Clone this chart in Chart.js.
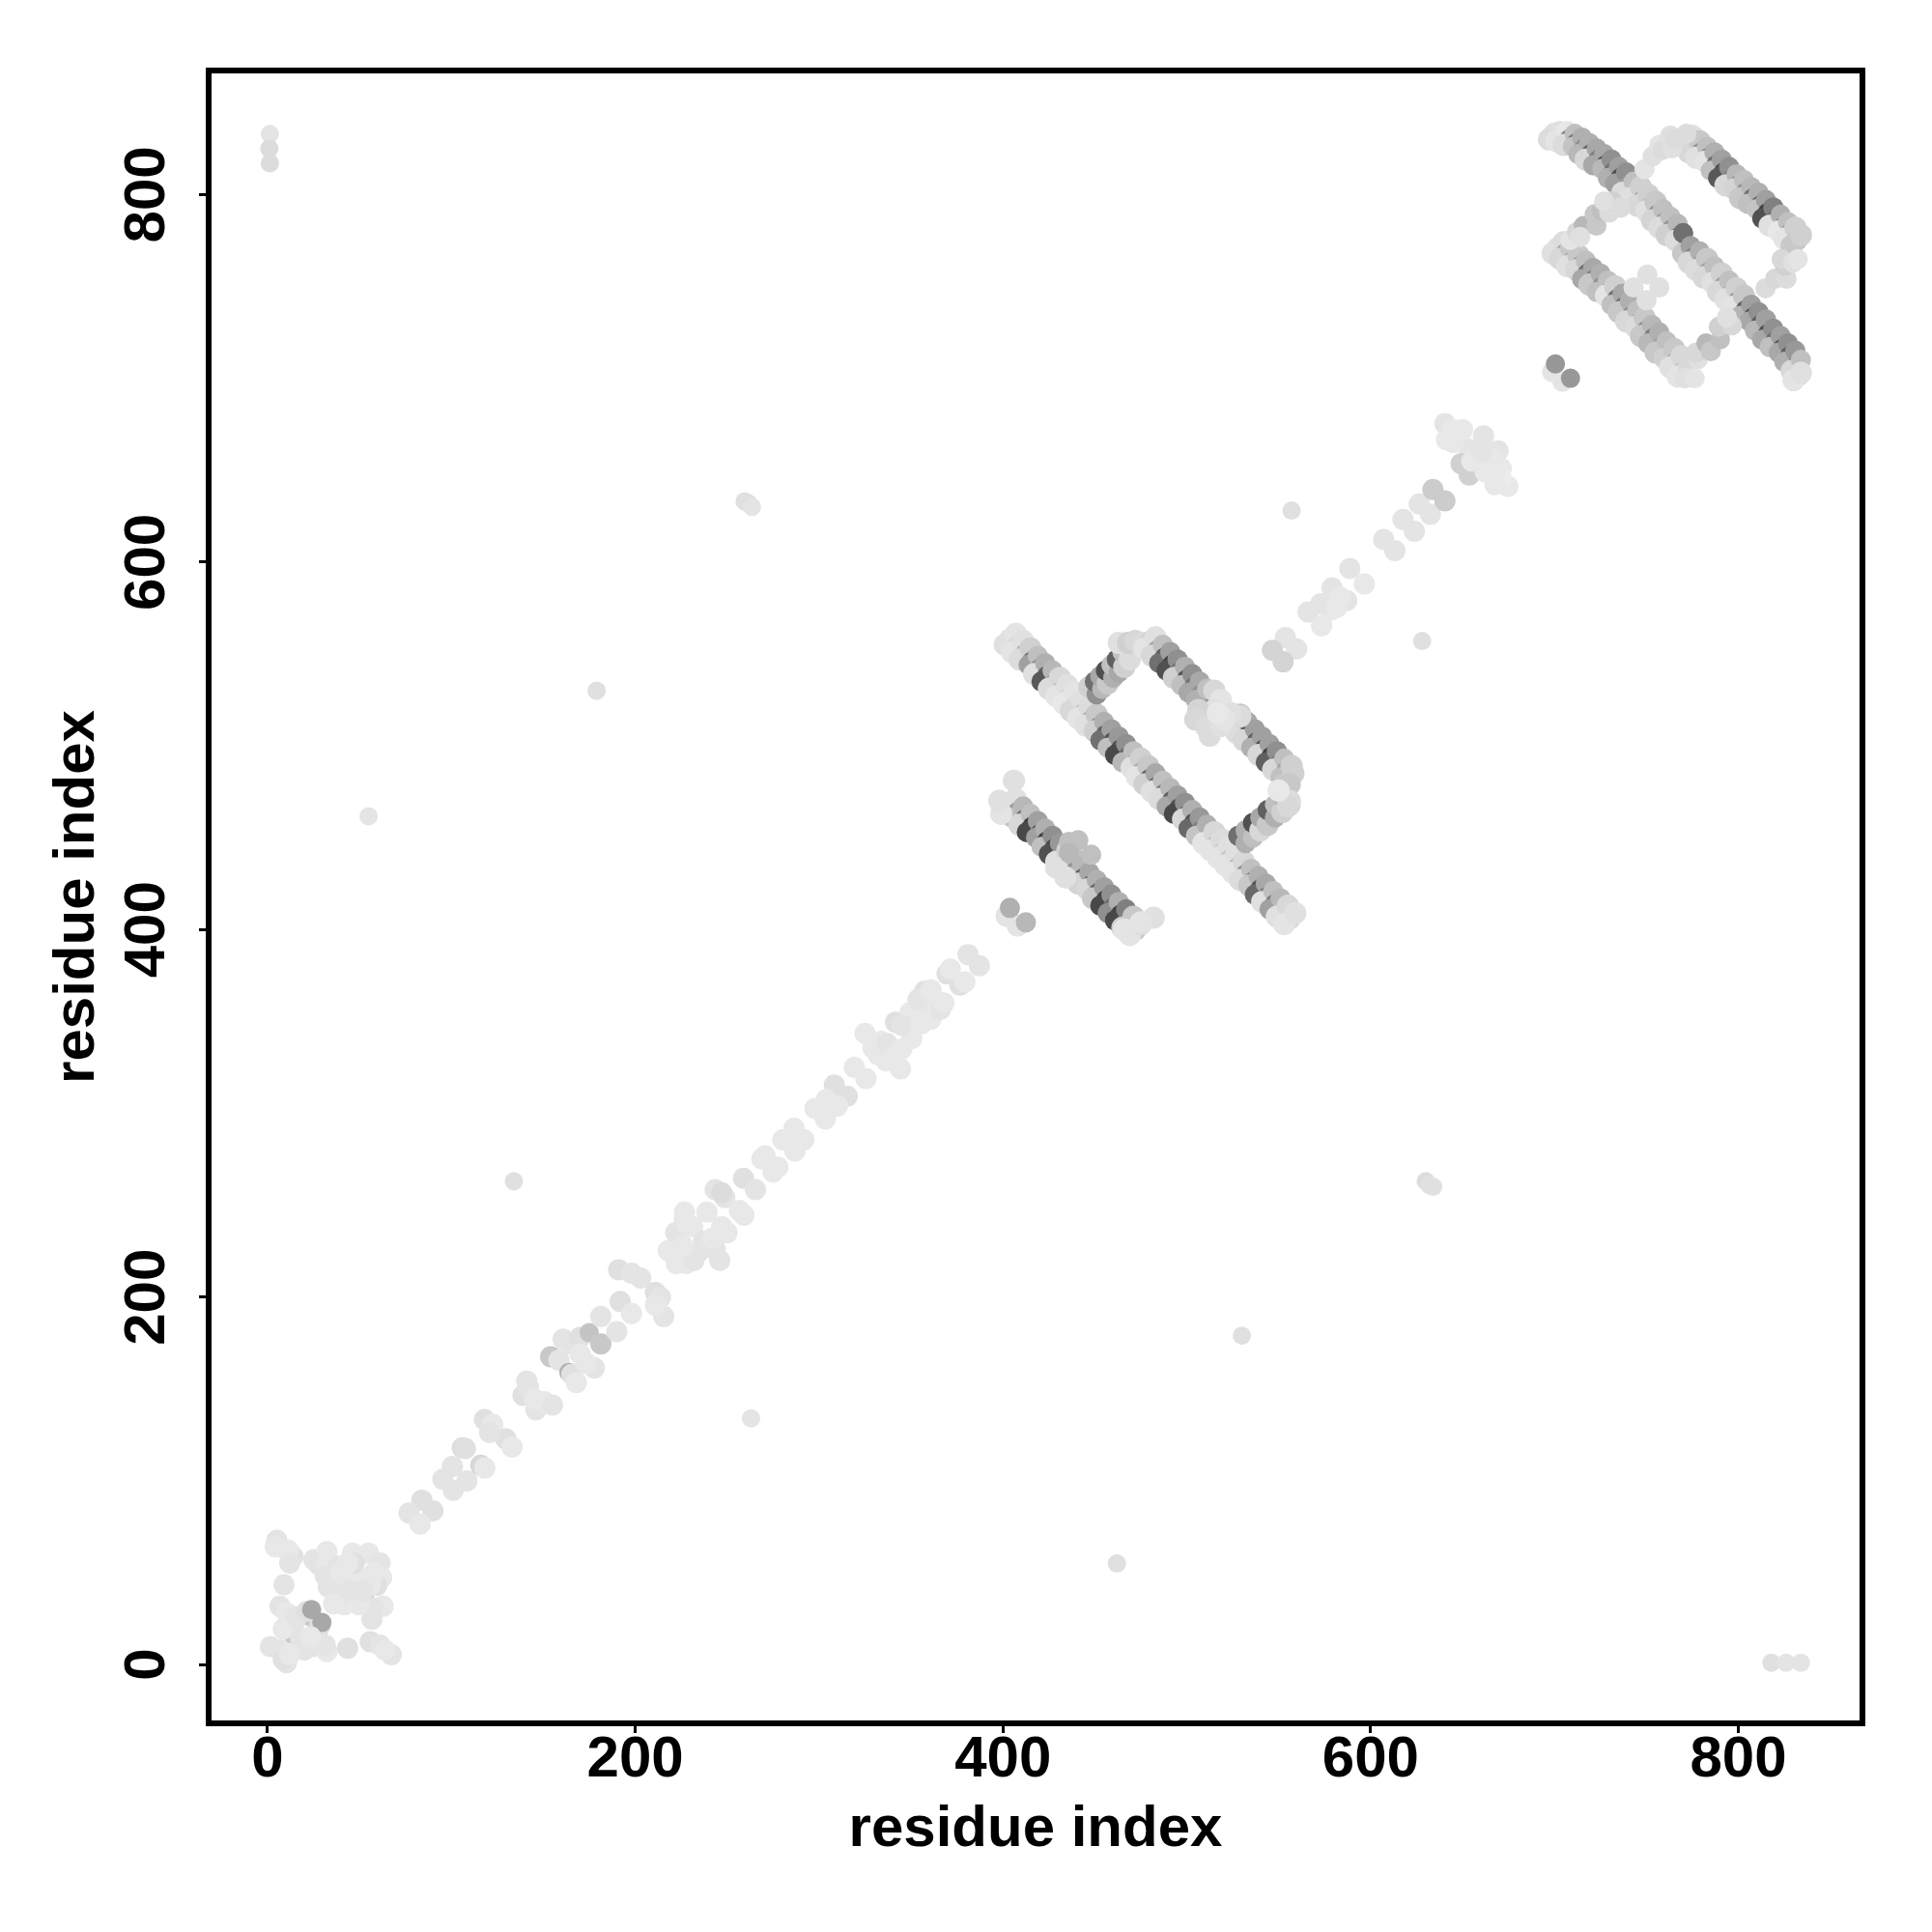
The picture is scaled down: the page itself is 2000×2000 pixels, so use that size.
<!DOCTYPE html>
<html>
<head>
<meta charset="utf-8">
<title>residue contacts</title>
<script src="https://cdn.jsdelivr.net/npm/chart.js@4"></script>
<style>
  html, body { margin: 0; background: #fff; }
  canvas { display: block; }
</style>
</head>
<body>
<canvas id="mapa" width="2000" height="2000"></canvas>
<script>
const tickValues = [0, 200, 400, 600, 800];
const axisTitle = "residue index";

// isolated contacts away from the diagonal
const strayX = [1.3, 1, 1.3, 55, 179, 134, 263, 530, 462, 557, 628, 818, 826, 834, 259.5, 261.5, 263.5, 630, 632, 634];
const strayY = [833, 825, 817, 461.6, 530, 263, 134, 179, 55, 628, 557, 1, 1, 1, 633, 632, 630, 263, 261, 260];
const strayGrey = [0xe4, 0xdc, 0xdc, 0xe4, 0xe0, 0xe0, 0xe4, 0xe0, 0xe0, 0xe0, 0xe0, 0xe0, 0xe4, 0xe4, 0xe0, 0xe0, 0xe4, 0xdc, 0xe0, 0xe0];

// corner block near the origin
const cornerX = [
  31, 35, 42, 46, 40, 22, 27, 14, 50, 53,
  5.1, 4.2, 12.1, 13.8, 11.2, 12.1, 9,
  6.8, 10.3, 14.7, 8.6, 18, 20, 16, 21.5, 28.5, 24, 29.6,
  1.6, 6.8, 10.3, 8.6, 12.1, 25.2, 32.3, 31.4, 23.5, 43.6,
  55.9, 61.2, 67.3, 63.8,
  25.2, 32.3, 27.9, 32.3, 38.4, 46.3, 55, 61.2, 62.1, 59.4, 36.6, 33.1, 31.4,
  43.6, 50.7, 46.3, 41.9, 62.9, 57.7, 56.8, 49.8, 47.2, 43.6, 38.4, 55.9,
  40, 45, 36, 52, 58
];
const cornerY = [
  50, 42, 50, 45, 36, 27, 18, 17, 38, 34,
  67.6, 64.1, 59.7, 58.8, 62.3, 55.3, 43.4,
  31.7, 28.2, 22.9, 19.4, 14, 8, 26, 29, 21, 29.9, 22.9,
  9.8, 8, 1, 2.8, 5.4, 9.8, 7.1, 10.6, 15, 8.9,
  12.4, 10.6, 5.4, 8,
  57.1, 61.4, 54.4, 55.3, 53.6, 60.6, 60.6, 55.3, 47.4, 43.1, 43.9, 42.2, 48.3,
  48.3, 46.6, 39.5, 32.5, 31.7, 30.8, 24.7, 32.5, 55.3, 55.3, 36.9, 43.1,
  50, 40, 33, 40, 50
];
const cornerGrey = [
  0xc0, 0xc0, 0xb8, 0xc0, 0xc8, 0xc8, 0xc8, 0xc8, 0xc8, 0xc8,
  0xe4, 0xe8, 0xe4, 0xe0, 0xe8, 0xe4, 0xe4,
  0xe4, 0xe8, 0xe4, 0xe8, 0xe4, 0xe4, 0xe4, 0xe0, 0xe0, 0xa8, 0xa8,
  0xe4, 0xe4, 0xe4, 0xe0, 0xe8, 0xe4, 0xe8, 0xe4, 0xe8, 0xe0,
  0xe0, 0xe4, 0xe4, 0xe8,
  0xe4, 0xe8, 0xe4, 0xe8, 0xe4, 0xe8, 0xe8, 0xe4, 0xe8, 0xe0, 0xe8, 0xe4, 0xe4,
  0xe8, 0xe8, 0xe4, 0xe8, 0xe8, 0xe4, 0xe4, 0xe8, 0xe0, 0xe8, 0xe4, 0xe8,
  0xe8, 0xe4, 0xe8, 0xe4, 0xe8
];

// contacts along the main diagonal
const diagX = [
  84, 77, 90, 83,
  100.6, 95.4, 108.5, 101, 106, 107.6, 116, 118.2,
  118, 122.5, 129.6, 133, 120.8,
  141, 139, 142, 146, 150.6, 155, 145,
  154, 158.5, 160.8, 165.5, 164, 165.5, 168, 177.8, 173.4, 170, 175, 181.3, 181.3, 190, 170,
  191.8, 198,
  191, 198, 203, 211, 213.7, 215.5, 211,
  218, 222.4, 226.8, 231.2, 239, 247, 237.3, 243.5, 227.7, 226.8,
  222, 228, 235, 242, 246, 250, 232, 226,
  243.5, 248.7, 256.6, 259.2, 247,
  258.9, 265.4,
  270.6, 277.6, 268.9, 275,
  286.4, 280.3, 291.7, 286.9,
  308.3, 315.3, 303.9, 297.8, 303.4, 310,
  319.2, 325.5,
  325, 333.7, 339.9, 344.3, 329.3, 336.4, 332, 337, 340, 345,
  341.6, 349.5, 354.8, 360.9, 350.4, 366.2, 345.1, 355.6,
  381, 387.2,
  369.6, 376.6, 371.4, 379.3,
  357.4, 366.1, 353.8, 360.9, 367.9,
  553.6, 546.6, 559.8, 552.4,
  566, 573.3, 578.2, 572.9, 579, 587, 588.7, 596.6, 583.4, 581.7,
  607.1, 613.2,
  617.6, 623.8,
  626.4, 632.5,
  633.9, 640.4,
  640.4, 644.8, 648.3, 661.4, 641.3, 653.6, 669.3, 665.8, 649.2, 653.6, 658.8, 671.1, 674.6, 671.1, 667.6, 662.3,
  645, 655, 660, 650, 668
];
const diagY = [
  89.5, 82.5, 83.7, 76.4,
  107.9, 100.9, 100, 94.8, 118, 117.6, 108.5, 107,
  133.3, 130.7, 122.8, 118.4, 126.3,
  154.3, 146.5, 150.8, 138.6, 143, 141.2, 144.7,
  167.5, 165.7, 177.1, 174.5, 159, 157.9, 153.5, 161.4, 164, 178, 180.6, 174.5, 189.4, 181.2, 169,
  197.6, 191,
  214.8, 213, 210.4, 202.5, 199.9, 189.4, 195.5,
  225.2, 218.2, 242.7, 238.3, 246.2, 238.3, 230.4, 226, 218.2, 246.2,
  235, 240, 225, 232, 220, 235, 220, 228,
  258.5, 254.1, 247.1, 244.5, 256.7,
  264.6, 258.5,
  276.9, 270.7, 275.1, 268.1,
  291.8, 285.6, 285.6, 279.5,
  315.4, 309.3, 307.5, 302.6, 297, 304,
  325, 318.9,
  343.5, 339.1, 333.8, 324.2, 335.6, 328.6, 332, 338, 330, 335,
  349.6, 354.8, 359.2, 351.3, 340.8, 360.1, 347.8, 348.7,
  386.4, 380.3,
  375.9, 369.8, 378.5, 371.5,
  366.3, 356.6, 361.9, 367.1, 360.1,
  558.9, 551.9, 552.7, 545.7,
  572.9, 565.4, 573.8, 577.3, 586, 579, 596.5, 588.1, 580.8, 575.5,
  612.3, 606.2,
  623.2, 616.7,
  631.6, 626,
  639.5, 633.3,
  675.4, 671.9, 669.3, 668.7, 666.6, 661.4, 660.5, 656.1, 653.5, 647.4, 654.4, 650.9, 641.2, 645.6, 642.1, 649.1,
  665, 655, 660, 672, 650
];
const diagGrey = [
  0xe0, 0xe4, 0xe0, 0xe8,
  0xe4, 0xe4, 0xe4, 0xe4, 0xdc, 0xe0, 0xd8, 0xe8,
  0xe0, 0xe8, 0xe0, 0xe8, 0xe4,
  0xe4, 0xe0, 0xe4, 0xe4, 0xe8, 0xe4, 0xe8,
  0xc8, 0xe4, 0xe4, 0xe4, 0xb0, 0xe0, 0xe8, 0xe4, 0xe8, 0xe0, 0xc4, 0xc8, 0xe4, 0xe4, 0xe8,
  0xe0, 0xe8,
  0xe0, 0xe4, 0xe4, 0xe0, 0xe4, 0xe4, 0xe8,
  0xe8, 0xe8, 0xe4, 0xe8, 0xe8, 0xe8, 0xe4, 0xe4, 0xe8, 0xe8,
  0xe4, 0xe8, 0xe4, 0xe8, 0xe4, 0xe8, 0xe4, 0xe8,
  0xe4, 0xe4, 0xe8, 0xe8, 0xdc,
  0xe0, 0xe4,
  0xe8, 0xe8, 0xe8, 0xe8,
  0xe8, 0xe8, 0xe8, 0xe8,
  0xe0, 0xe0, 0xe8, 0xe8, 0xe8, 0xe8,
  0xe8, 0xe8,
  0xe8, 0xe8, 0xe8, 0xe8, 0xe8, 0xe8, 0xe8, 0xe4, 0xe8, 0xe8,
  0xe0, 0xe8, 0xe8, 0xe8, 0xe8, 0xe8, 0xe4, 0xe8,
  0xe4, 0xe4,
  0xe0, 0xe0, 0xe8, 0xe8,
  0xe0, 0xe4, 0xe4, 0xe8, 0xe8,
  0xe4, 0xd4, 0xe4, 0xd4,
  0xe4, 0xe8, 0xe8, 0xe4, 0xe4, 0xe4, 0xe4, 0xe8, 0xe8, 0xe8,
  0xe4, 0xe4,
  0xe4, 0xe4,
  0xe4, 0xe4,
  0xcc, 0xcc,
  0xe4, 0xe8, 0xec, 0xe4, 0xe8, 0xe4, 0xe4, 0xe8, 0xd0, 0xd0, 0xe8, 0xe8, 0xe8, 0xec, 0xe8, 0xe8,
  0xe8, 0xe8, 0xe4, 0xe8, 0xe8
];

// long antiparallel strand, first block
const strandAX = [
  404,401,407, 408,405,411, 412,409,415, 416,414,419, 420,417,423, 424,421,427, 428,425,431, 432,429,435, 436,433,439, 440,437,443,
  444,441,447, 448,445,451, 452,450,455, 456,453,459, 460,457,463, 464,461,467, 468,465,471, 472,470,475, 476,473,479, 480,477,483,
  484,481,487, 488,485,491, 492,489,495, 496,493,499, 500,498,503, 504,501,507, 508,505,511, 512,509,515, 516,513,519, 520,517,523,
  524,521,527, 528,525,531, 532,529,535, 536,534,539, 540,537,543, 544,541,547, 548,545,551, 552,549,555, 556,553,559
];
const strandAY = [
  558,555,561, 554,551,557, 550,547,553, 546,544,549, 542,539,545, 538,535,541, 534,531,537, 530,527,533, 526,523,529, 522,519,525,
  518,515,521, 514,511,517, 510,508,513, 506,503,509, 502,499,505, 498,495,501, 494,491,497, 490,488,493, 486,483,489, 482,479,485,
  478,475,481, 474,471,477, 470,467,473, 466,463,469, 462,460,465, 458,455,461, 454,451,457, 450,447,453, 446,443,449, 442,439,445,
  438,435,441, 434,431,437, 430,427,433, 426,424,429, 422,419,425, 418,415,421, 414,411,417, 410,407,413, 406,403,409
];
const strandAGrey = [
  0xe0,0xe0,0xe4, 0xd8,0xe4,0xe0, 0xb0,0xdc,0xd0, 0x70,0xa0,0xc0, 0x90,0xe0,0xb0, 0x60,0x58,0xb8, 0xa0,0xdc,0xd8, 0xc0,0xe4,0xe0, 0xd8,0xe8,0xe4, 0xe0,0xd8,0xe0,
  0xc0,0xe4,0xdc, 0xa8,0xe0,0xc8, 0x80,0xd0,0xb0, 0x60,0x70,0xa0, 0x50,0xc0,0x98, 0x50,0x48,0x90, 0x70,0xb8,0xc0, 0x90,0xe0,0xd0, 0xa0,0xe4,0xc8, 0x60,0xd0,0xa8,
  0x70,0xe0,0xc0, 0x80,0xdc,0xb8, 0x60,0xa8,0xa0, 0x50,0x48,0x90, 0x60,0xd8,0xb0, 0x50,0x68,0x98, 0x80,0xc4,0xb0, 0xb0,0xe4,0xd8, 0xc0,0xe4,0xdc, 0xd0,0xe4,0xe0,
  0xc8,0xe4,0xe0, 0xb0,0xe4,0xd8, 0x90,0xdc,0xc0, 0x70,0xc8,0xb0, 0x58,0x68,0xa8, 0x80,0xe0,0xc0, 0x80,0xa0,0xb8, 0xc0,0xe0,0xd8, 0xd8,0xe4,0xe0
];

// shorter strand under the first one, plus its side contacts
const strandEX = [
  404,401,407, 408,405,411, 412,409,415, 416,413,419, 420,418,423, 424,421,427, 428,425,431, 432,429,435, 436,433,439,
  440,437,443, 444,441,447, 448,446,451, 452,449,455, 456,453,459, 460,457,463, 464,461,467, 468,465,471, 472,469,475,
  406, 399, 398, 482, 475, 466, 429, 434, 436, 441, 448, 436,
  402, 408, 403.8, 412.5
];
const strandEY = [
  468,465,471, 464,461,467, 460,457,463, 456,453,459, 452,450,455, 448,445,451, 444,441,447, 440,437,443, 436,433,439,
  432,429,435, 428,425,431, 424,422,427, 420,417,423, 416,413,419, 412,409,415, 408,405,411, 404,401,407, 400,397,403,
  481, 463, 470, 406.5, 404, 400, 433.7, 428.4, 447.7, 448.6, 440.7, 441.6,
  407.4, 402.2, 411.8, 403.9
];
const strandEGrey = [
  0xd8,0xdc,0xe0, 0xa0,0xc0,0xb8, 0x70,0xd8,0xc0, 0x40,0x48,0xa0, 0x60,0xa0,0xb0, 0x40,0xc0,0x90, 0x48,0x50,0x98, 0x90,0xe0,0xd0, 0x80,0xd8,0xc0,
  0x90,0xa8,0xb8, 0x60,0xd4,0xa8, 0x50,0xd8,0xb0, 0x60,0xc8,0xa0, 0x40,0x48,0x90, 0x70,0x90,0xb0, 0x40,0x48,0x80, 0x80,0xd0,0xc8, 0xc8,0xe4,0xdc,
  0xe0, 0xe4, 0xe0, 0xe0, 0xe4, 0xe4, 0xe0, 0xe0, 0xc0, 0xc0, 0xc0, 0xb8,
  0xe4, 0xe4, 0xb0, 0xb8
];

// second strand of the first block, links and the light patch
const strandCX = [
  447,451, 450,454, 453,457, 456,460, 459,463, 462,466, 465,469,
  463, 468, 472, 477, 482, 486,
  528,532, 532,536, 536,540, 540,544, 544,548, 548,552, 552,556,
  480,477,483, 484,481,487, 488,485,491, 492,489,495, 496,493,499, 500,497,503, 504,501,507, 508,505,511,
  526,523,529, 530,527,533, 534,531,537, 538,535,541, 542,539,545, 546,543,549, 550,547,553, 554,551,557, 556,553,558,
  515, 518.6, 515, 506.3, 504.6, 510.7, 512.5, 518.6, 529.1, 523.9, 520.3, 516.8,
  556, 556, 555, 550
];
const strandCY = [
  532,528, 535,531, 538,534, 541,537, 544,540, 547,543, 551,547,
  556, 556, 557, 556, 555, 553,
  451,447, 454,450, 458,454, 461,457, 465,461, 468,464, 472,468,
  556,553,559, 552,549,555, 548,545,551, 544,541,547, 540,537,543, 536,533,539, 532,529,535, 528,525,531,
  514,511,517, 510,507,513, 506,503,509, 502,499,505, 498,495,501, 494,491,497, 490,487,493, 486,483,489, 482,479,485,
  530, 524.8, 519.5, 519.5, 514.3, 509.9, 505.5, 510.8, 516, 517.8, 514.3, 517.8,
  479, 470, 467, 475.7
];
const strandCGrey = [
  0xd0,0x90, 0x70,0xb8, 0xa8,0xc8, 0x50,0xb0, 0xc0,0xa8, 0x60,0xd0, 0xc0,0xdc,
  0xe0, 0xd0, 0xd8, 0xdc, 0xe0, 0xc8,
  0x70,0xb0, 0xb0,0xc0, 0x50,0xd8, 0xa8,0xc8, 0x60,0xb0, 0xc0,0xd0, 0xb8,0xd4,
  0xd0,0xe4,0xe0, 0xa0,0xd8,0xc0, 0x60,0x70,0xa0, 0x40,0x50,0x90, 0x70,0xd0,0xb0, 0x50,0xc0,0x90, 0x70,0xa8,0xa8, 0x90,0xb0,0xc0,
  0x90,0xe0,0xc8, 0x60,0xdc,0xa8, 0x50,0xd8,0xa0, 0x60,0xb0,0xa0, 0x50,0xd8,0xa0, 0x40,0x60,0x90, 0x80,0xd8,0xc0, 0xa0,0xc0,0xd0, 0xc0,0xc8,0xd0,
  0xd8, 0xe4, 0xe0, 0xd4, 0xd8, 0xdc, 0xdc, 0xe0, 0xdc, 0xe0, 0xe4, 0xe8,
  0xc8, 0xdc, 0xd8, 0xe8
];

// second block, top right
const strandFX = [
  700,697,703, 704,701,707, 708,705,711, 712,710,715, 716,713,719, 720,717,723, 724,721,727, 728,726,731, 732,729,735, 736,733,739,
  740,737,743, 744,741,747, 748,745,751, 752,750,755, 756,753,759, 760,757,763, 764,761,767, 768,766,770, 772,770,774, 776,773,779,
  780,777,783, 784,781,787, 788,786,791, 792,789,795, 796,793,799, 800,797,803, 804,801,807, 808,806,811, 812,809,815, 816,813,819,
  820,817,823, 824,822,827, 828,825,831, 832,829,834, 833,830,834
];
const strandFY = [
  833,830,834, 832,829,834, 830,827,833, 828,826,831, 825,822,828, 822,819,825, 819,816,822, 816,814,819, 812,809,815, 809,806,812,
  804,801,807, 801,798,804, 797,794,800, 793,791,796, 789,786,792, 785,782,788, 781,778,784, 777,775,779, 770,768,772, 766,763,769,
  762,759,765, 758,755,761, 754,752,757, 750,747,753, 746,743,749, 742,739,745, 737,734,740, 733,731,736, 729,726,732, 724,721,727,
  720,717,723, 716,714,719, 712,709,715, 707,704,710, 702,699,703
];
const strandFGrey = [
  0xe0,0xdc,0xe0, 0xe4,0xe4,0xe8, 0x80,0xdc,0xc0, 0x70,0xc4,0xb0, 0x90,0xb8,0xb0, 0x60,0xd8,0xa8, 0x80,0xa8,0xa8, 0x50,0xb8,0x90, 0x70,0xb0,0xa0, 0x50,0xa0,0x90,
  0xa0,0xdc,0xc0, 0xc0,0xe0,0xd0, 0xa8,0xd8,0xd0, 0xa0,0xe0,0xc8, 0x90,0xd4,0xc0, 0xa0,0xdc,0xc0, 0x90,0xd0,0xb8, 0x50,0xdc,0x70, 0x40,0xc8,0xa0, 0x80,0xd8,0xb0,
  0xa0,0xdc,0xc8, 0xa0,0xd8,0xc0, 0xb0,0xe0,0xd0, 0xa0,0xd8,0xc0, 0xb0,0xe0,0xd0, 0x90,0xe4,0xc8, 0x60,0xb4,0xa0, 0x50,0xa8,0x90, 0x60,0xb8,0xa0, 0x50,0xa8,0x90,
  0x70,0xc0,0xa0, 0x50,0xa8,0x90, 0x60,0xb0,0x98, 0x80,0xd8,0xc0, 0xd0,0xe4,0xe0
];

const strandGX = [
  702,699,705, 706,703,709, 710,707,713, 714,712,717, 718,715,721, 722,719,725, 726,723,729, 730,728,733, 734,731,737,
  738,735,741, 742,739,745, 746,744,749, 750,747,753, 754,751,757, 758,755,761, 762,760,765, 766,763,769, 770,767,773
];
const strandGY = [
  771,768,774, 768,765,771, 764,761,767, 761,759,764, 757,754,760, 754,751,757, 750,747,753, 747,745,750, 743,740,746,
  739,736,742, 734,731,737, 730,728,733, 726,723,729, 722,719,725, 717,714,720, 713,711,716, 709,706,712, 704,701,707
];
const strandGGrey = [
  0xe0,0xe0,0xdc, 0xa0,0xd8,0xc8, 0xa8,0xe0,0xc8, 0x90,0xd8,0xc0, 0x70,0xa8,0xa8, 0x80,0xc8,0xb0, 0x90,0xc0,0xc0, 0xa0,0xe4,0xd0, 0x70,0xc0,0xa8,
  0x70,0xc8,0xb0, 0x90,0xd8,0xc0, 0xa0,0xdc,0xc8, 0x90,0xc8,0xb8, 0x80,0xb8,0xb0, 0xa0,0xc8,0xc0, 0xa0,0xd0,0xc8, 0xb0,0xe0,0xd8, 0xc0,0xe4,0xd8
];

const strandHX = [
  772,769,775, 776,773,779, 780,777,783, 784,782,787, 788,785,791, 792,789,795, 796,793,799, 800,798,803,
  804,801,807, 808,805,811, 812,810,815, 816,813,819, 820,817,823, 824,822,827, 828,825,831, 832,829,834
];
const strandHY = [
  830,827,832, 826,823,829, 823,820,826, 820,818,823, 816,813,819, 812,809,815, 808,805,811, 805,803,808,
  801,798,804, 798,795,801, 794,792,797, 790,787,793, 786,783,789, 782,780,785, 779,776,782, 775,772,778
];
const strandHGrey = [
  0xd8,0xdc,0xe0, 0xb0,0xd8,0xc8, 0x90,0xe0,0xc0, 0x70,0xe4,0xb0, 0x70,0xc0,0xa0, 0x50,0x58,0x90, 0x80,0xd8,0xb8, 0x80,0xd4,0xc0,
  0x90,0xc8,0xb8, 0x70,0xc0,0xb0, 0x60,0xc4,0xa0, 0x40,0x50,0x80, 0x70,0xe0,0xb0, 0x80,0xe8,0xc0, 0xa0,0xe4,0xd0, 0xc0,0xc8,0xd0
];

// links between the strands of the second block, the small diamond, the dark pair
const linkX = [
  708.7, 712.2, 715.7, 714, 721.9, 722.8, 725.4, 729.8, 731.5, 727, 735.9,
  749, 753.4, 757, 758.7, 763, 764, 765.7, 771.8,
  771, 776.2, 778, 777.1, 782.4, 785, 790.2, 789.4, 796.4, 793.8,
  814.8, 820, 826.2, 825.3, 823.5, 829.7, 832.3,
  750.5, 743, 757, 750,
  698.7, 704.3, 700.5, 708.7
];
const linkY = [
  775.3, 779.6, 783.1, 777, 789.3, 783.1, 791, 790.2, 796.3, 796.3, 792.8,
  813.8, 820.8, 827, 824.3, 832.2, 825.2, 830.5, 833,
  700, 700, 710.4, 714, 719.2, 714.8, 721, 728, 728.8, 733.2,
  749, 754.2, 754.2, 761.3, 764.8, 763, 764.8,
  756.5, 749.5, 749.5, 742.5,
  703.4, 698.2, 707.8, 700
];
const linkGrey = [
  0xe4, 0xd8, 0xb8, 0xe0, 0xc8, 0xc8, 0xc0, 0xdc, 0xd0, 0xe0, 0xdc,
  0xe4, 0xe0, 0xe4, 0xdc, 0xe0, 0xe0, 0xdc, 0xdc,
  0xe0, 0xe4, 0xe0, 0xd8, 0xb8, 0xc8, 0xc0, 0xd0, 0xd8, 0xe0,
  0xdc, 0xd8, 0xdc, 0xd0, 0xd8, 0xe0, 0xe4,
  0xe0, 0xe0, 0xe0, 0xe0,
  0xe4, 0xe4, 0x98, 0x98
];

// [x, y, grey, radius of light marks, radius of dark marks]
const regions = [
  [strayX, strayY, strayGrey, 9.5, 9.5],
  [cornerX, cornerY, cornerGrey, 11, 10],
  [diagX, diagY, diagGrey, 11, 10],
  [strandEX, strandEY, strandEGrey, 11.5, 10.5],
  [strandCX, strandCY, strandCGrey, 11.5, 10.5],
  [strandAX, strandAY, strandAGrey, 11.5, 10.5],
  [linkX, linkY, linkGrey, 10.5, 10],
  [strandGX, strandGY, strandGGrey, 11.5, 10.5],
  [strandHX, strandHY, strandHGrey, 11.5, 10.5],
  [strandFX, strandFY, strandFGrey, 11.5, 10.5],
];

// R style box round the plot
const marco = {
  id: "marco",
  afterDraw(chart) {
    const { ctx, chartArea: a } = chart;
    ctx.save();
    ctx.strokeStyle = "#000";
    ctx.lineWidth = 6;
    ctx.strokeRect(a.left, a.top, a.right - a.left, a.bottom - a.top);
    ctx.restore();
  }
};

const fuente = { family: "'Liberation Sans', Arial, sans-serif", size: 60, weight: "bold" };

function ejeComun(extra) {
  return Object.assign({
    type: "linear",
    min: -32,
    max: 867.5,
    afterBuildTicks: s => { s.ticks = tickValues.map(v => ({ value: v })); },
    border: { display: false },
    grid: { drawOnChartArea: false, drawTicks: true, tickLength: 10, tickWidth: 3, tickColor: "#000" },
  }, extra);
}

new Chart(document.getElementById("mapa"), {
  type: "scatter",
  data: {
    datasets: regions.map(([xs, ys, greys, rLight, rDark]) => ({
      data: xs.map((x, i) => ({ x, y: ys[i] })),
      backgroundColor: greys.map(g => `rgb(${g},${g},${g})`),
      borderWidth: 0,
      pointRadius: greys.map(g => (g >= 0xc8 ? rLight : rDark)),
      pointHoverRadius: 10,
    }))
  },
  options: {
    responsive: false,
    animation: false,
    layout: { padding: { left: 0, top: 73, right: 72, bottom: 0 } },
    plugins: { legend: { display: false }, tooltip: { enabled: false } },
    scales: {
      x: ejeComun({
        afterFit: s => { s.height = 216; },
        ticks: { color: "#000", font: fuente, padding: -8, maxRotation: 0, minRotation: 0, autoSkip: false },
        title: { display: true, text: axisTitle, color: "#000", font: fuente, padding: { top: 0, bottom: 70 } },
      }),
      y: ejeComun({
        afterFit: s => { s.width = 216; },
        ticks: { color: "#000", font: fuente, padding: 2, minRotation: 90, maxRotation: 90, crossAlign: "center", autoSkip: false },
        title: { display: true, text: axisTitle, color: "#000", font: fuente, padding: { top: 44, bottom: 0 } },
      }),
    }
  },
  plugins: [marco]
});
</script>
</body>
</html>
